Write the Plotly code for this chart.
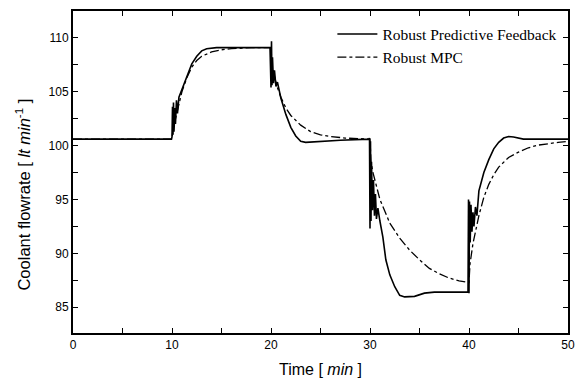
import plotly.graph_objects as go

rpf_t = [0, 9.95, 10.0, 10.05, 10.1, 10.15, 10.2, 10.3, 10.35, 10.45, 10.55, 10.7, 11.0, 11.5, 12.0, 12.5,
         13.0, 13.5, 14.5, 19.9, 19.95, 20.0, 20.05, 20.1, 20.15, 20.25, 20.35, 20.5, 20.65, 20.8, 21.0,
         21.5, 22.0, 22.5, 23.0, 23.5, 25.0, 27.0, 29.9, 29.95, 30.0, 30.05, 30.1, 30.15, 30.25, 30.35,
         30.45, 30.55, 30.65, 30.8, 31.0, 31.3, 31.6, 32.0, 32.5, 33.0, 33.5, 34.5, 35.5, 36.5, 39.9,
         39.95, 40.0, 40.05, 40.12, 40.2, 40.3, 40.4, 40.5, 40.65, 40.8, 41.0, 41.5, 42.0, 42.5, 43.0,
         43.5, 44.0, 44.5, 45.5, 50]
rpf_v = [100.6, 100.6, 100.8, 103.6, 101.0, 104.0, 101.3, 103.5, 102.0, 104.2, 103.0, 104.5, 105.2, 106.4,
         107.6, 108.3, 108.8, 109.0, 109.1, 109.1, 106.5, 105.4, 109.7, 105.6, 108.2, 105.8, 107.0, 105.5,
         105.9, 105.2, 104.4, 102.9, 101.7, 100.9, 100.4, 100.3, 100.4, 100.5, 100.6, 100.7, 92.3, 100.4,
         93.0, 98.5, 94.0, 96.8, 93.5, 95.5, 93.2, 94.2, 93.0, 91.5, 89.4, 88.0, 86.9, 86.1, 85.95, 86.0,
         86.3, 86.4, 86.4, 95.0, 86.3, 94.8, 91.0, 94.5, 92.0, 93.8, 92.5, 94.3, 93.5, 95.8, 97.5, 98.7,
         99.7, 100.3, 100.7, 100.85, 100.8, 100.6, 100.6]

mpc_t = [0, 10.0, 10.1, 10.3, 10.6, 11.0, 11.5, 12.0, 12.5, 13.0, 14.0, 15.0, 16.0, 18.0, 20.0, 20.1, 20.3,
         20.6, 21.0, 21.5, 22.0, 22.5, 23.0, 24.0, 25.0, 26.0, 27.5, 30.0, 30.1, 30.3, 30.6, 31.0, 31.5,
         32.0, 33.0, 34.0, 35.0, 36.0, 37.0, 38.0, 39.0, 40.0, 40.1, 40.4, 41.0, 41.5, 42.0, 42.5, 43.0,
         44.0, 45.0, 46.0, 47.0, 48.0, 49.0, 50.0]
mpc_v = [100.6, 100.6, 101.5, 102.3, 103.6, 105.0, 106.3, 107.3, 107.9, 108.3, 108.7, 108.9, 109.0, 109.1,
         109.1, 107.5, 106.6, 105.5, 104.5, 103.5, 102.8, 102.3, 101.9, 101.3, 101.0, 100.85, 100.7, 100.6,
         98.5, 97.5, 96.3, 95.0, 93.9, 92.8, 91.4, 90.3, 89.4, 88.6, 88.1, 87.7, 87.45, 87.3, 89.0, 90.9,
         93.5, 95.2, 96.4, 97.3, 98.0, 98.9, 99.4, 99.8, 100.05, 100.2, 100.3, 100.4]

x_ticks = [0, 10, 20, 30, 40, 50]
x_minor = [5, 15, 25, 35, 45]
y_ticks = [85, 90, 95, 100, 105, 110]
y_minor = [87.5, 92.5, 97.5, 102.5, 107.5]

fig = go.Figure()
fig.add_trace(go.Scatter(x=rpf_t, y=rpf_v, mode="lines", name="Robust Predictive Feedback",
                         line=dict(color="black", width=1.6)))
fig.add_trace(go.Scatter(x=mpc_t, y=mpc_v, mode="lines", name="Robust MPC",
                         line=dict(color="black", width=1.3, dash="dashdot")))

axis_common = dict(showgrid=False, zeroline=False, showline=True, linecolor="black", linewidth=2,
                   mirror="allticks", ticks="inside", ticklen=5, tickwidth=1.2, tickcolor="black",
                   automargin=False,
                   tickfont=dict(family="Liberation Sans, Arial", size=12, color="black"))

fig.update_layout(
    width=582, height=381,
    margin=dict(l=73, r=14, t=11, b=48),
    paper_bgcolor="white", plot_bgcolor="white",
    showlegend=True,
    legend=dict(x=0.524, y=0.98, xanchor="left", yanchor="top", bgcolor="rgba(0,0,0,0)",
                font=dict(family="Liberation Serif, Times New Roman", size=15.5, color="black"),
                tracegroupgap=0, itemwidth=40),
    xaxis=dict(range=[0, 50], tickvals=x_ticks,
               minor=dict(tickvals=x_minor, ticks="inside", ticklen=5, tickcolor="black"),
               title=dict(text="Time [ <i>min</i> ]", font=dict(family="Liberation Sans, Arial", size=16, color="black"),
                          standoff=12),
               **axis_common),
    yaxis=dict(range=[82.6, 112.5], tickvals=y_ticks,
               minor=dict(tickvals=y_minor, ticks="inside", ticklen=5, tickcolor="black"),
               **axis_common),
    annotations=[dict(text="Coolant flowrate [ <i>lt min</i><sup>-1</sup> ]", textangle=-90,
                      xref="paper", yref="paper", x=-0.101, y=0.43, xanchor="center", yanchor="middle",
                      showarrow=False, font=dict(family="Liberation Sans, Arial", size=16.5, color="black"))],
)

fig.write_html("out.html")
